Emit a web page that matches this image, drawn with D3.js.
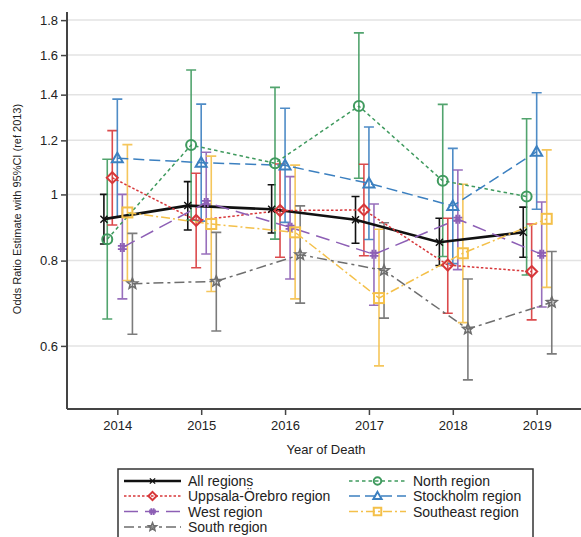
<!DOCTYPE html>
<html>
<head>
<meta charset="utf-8">
<script src="https://cdn.jsdelivr.net/npm/d3@7/dist/d3.min.js"></script>
<style>
  html, body { margin: 0; padding: 0; background: #fff; }
  svg { display: block; font-family: "Liberation Sans", Arial, sans-serif; }
</style>
</head>
<body>
<svg id="chart" width="581" height="537"></svg>
<script>
// Years of death (reference year 2013)
const years = [2014, 2015, 2016, 2017, 2018, 2019];
const yTicks = [0.6, 0.8, 1, 1.2, 1.4, 1.6, 1.8];

// Odds ratio estimates with 95% CI per region
const allEst = [0.920, 0.963, 0.951, 0.918, 0.851, 0.880];
const allLo  = [0.846, 0.887, 0.878, 0.848, 0.787, 0.809];
const allHi  = [1.000, 1.044, 1.033, 0.993, 0.923, 0.958];

const northEst = [0.860, 1.181, 1.111, 1.347, 1.047, 0.993];
const northLo  = [0.657, 0.917, 0.860, 1.056, 0.811, 0.762];
const northHi  = [1.126, 1.521, 1.435, 1.724, 1.355, 1.291];

const uppsalaEst = [1.058, 0.916, 0.947, 0.949, 0.788, 0.771];
const uppsalaLo  = [0.902, 0.781, 0.809, 0.813, 0.670, 0.655];
const uppsalaHi  = [1.240, 1.074, 1.108, 1.107, 0.923, 0.905];

const stockholmEst = [1.130, 1.113, 1.103, 1.038, 0.962, 1.155];
const stockholmLo  = [0.926, 0.914, 0.910, 0.859, 0.792, 0.951];
const stockholmHi  = [1.379, 1.356, 1.337, 1.255, 1.168, 1.409];

const westEst = [0.836, 0.973, 0.895, 0.817, 0.920, 0.817];
const westLo  = [0.703, 0.818, 0.752, 0.688, 0.776, 0.684];
const westHi  = [1.000, 1.153, 1.062, 0.968, 1.086, 0.975];

const southeastEst = [0.941, 0.905, 0.880, 0.705, 0.820, 0.921];
const southeastLo  = [0.748, 0.721, 0.703, 0.561, 0.649, 0.731];
const southeastHi  = [1.183, 1.138, 1.104, 0.889, 1.035, 1.162];

const southEst = [0.740, 0.746, 0.816, 0.774, 0.635, 0.695];
const southLo  = [0.624, 0.631, 0.693, 0.659, 0.535, 0.584];
const southHi  = [0.877, 0.880, 0.962, 0.909, 0.752, 0.825];

const series = [
  { name: "All regions", est: allEst, lo: allLo, hi: allHi, color: "#111111", width: 2.6, dash: null, marker: "x", dx: -0.16, cap: 4 },
  { name: "North region", est: northEst, lo: northLo, hi: northHi, color: "#3f9a5e", width: 1.5, dash: "3.5,3", marker: "circle", dx: -0.12, cap: 5 },
  { name: "Uppsala-Örebro region", est: uppsalaEst, lo: uppsalaLo, hi: uppsalaHi, color: "#d7373a", width: 1.5, dash: "2.5,2", marker: "diamond", dx: -0.06, cap: 5 },
  { name: "Stockholm region", est: stockholmEst, lo: stockholmLo, hi: stockholmHi, color: "#3c80c0", width: 1.5, dash: "11,5", marker: "triangle", dx: 0, cap: 5 },
  { name: "West region", est: westEst, lo: westLo, hi: westHi, color: "#8d5fb5", width: 1.5, dash: "14,7", marker: "hash", dx: 0.06, cap: 5 },
  { name: "Southeast region", est: southeastEst, lo: southeastLo, hi: southeastHi, color: "#f4c04a", width: 1.5, dash: "9,3,2,3", marker: "square", dx: 0.12, cap: 5 },
  { name: "South region", est: southEst, lo: southLo, hi: southHi, color: "#6e6e6e", width: 1.5, dash: "10,4,3,4", marker: "star", dx: 0.18, cap: 5 }
];

const svg = d3.select("#chart");
const W = 581;

const x = d3.scaleLinear().domain([2013.4, 2019.6]).range([67, 587]);
const y = d3.scaleLog().domain([0.485, 1.85]).range([409, 12]);

// Horizontal gridlines
svg.append("g").selectAll("line").data(yTicks).join("line")
  .attr("x1", 67).attr("x2", W)
  .attr("y1", d => y(d)).attr("y2", d => y(d))
  .attr("stroke", "#e3e3e3").attr("stroke-width", 1.5);

// Axes
const yAxis = d3.axisLeft(y).tickValues(yTicks).tickFormat(d3.format("~g")).tickSize(6).tickPadding(3);
const gy = svg.append("g").attr("transform", "translate(67,0)").call(yAxis);
gy.select(".domain").attr("d", `M0,${y.range()[1]}V${y.range()[0]}`);
const xAxis = d3.axisBottom(x).tickValues(years).tickFormat(d3.format("d")).tickSize(6).tickPadding(6);
const gx = svg.append("g").attr("transform", "translate(0,409)").call(xAxis);
gx.select(".domain").attr("d", `M67,0H${W}`);
[gx, gy].forEach(g => {
  g.select(".domain").attr("stroke", "#444").attr("stroke-width", 2);
  g.selectAll(".tick line").attr("stroke", "#444").attr("stroke-width", 1.5);
  g.selectAll(".tick text").attr("fill", "#222").attr("font-size", 13)
    .attr("font-family", "Liberation Sans, Arial, sans-serif");
});

// Axis titles
svg.append("text").attr("x", 326).attr("y", 454).attr("text-anchor", "middle")
  .attr("font-size", 13).attr("fill", "#222").text("Year of Death");
svg.append("text").attr("transform", "translate(21,209) rotate(-90)").attr("text-anchor", "middle")
  .attr("font-size", 11).attr("fill", "#222").text("Odds Ratio Estimate with 95%CI (ref 2013)");

// Marker shapes
function drawMarker(g, type, cx, cy, color, scale) {
  const s = scale || 1;
  const apply = (el) => el.attr("fill", "none").attr("stroke", color).attr("stroke-width", 2);
  if (type === "circle") {
    apply(g.append("circle").attr("cx", cx).attr("cy", cy).attr("r", 5 * s));
  } else if (type === "diamond") {
    const r = 5.5 * s;
    apply(g.append("path").attr("d", `M${cx},${cy - r}L${cx + r},${cy}L${cx},${cy + r}L${cx - r},${cy}Z`));
  } else if (type === "triangle") {
    const r = 5.5 * s;
    apply(g.append("path").attr("d", `M${cx},${cy - r}L${cx + r},${cy + r * 0.75}L${cx - r},${cy + r * 0.75}Z`));
  } else if (type === "square") {
    const r = 5 * s;
    apply(g.append("rect").attr("x", cx - r).attr("y", cy - r).attr("width", 2 * r).attr("height", 2 * r));
  } else if (type === "star") {
    const pts = d3.range(10).map(i => {
      const a = -Math.PI / 2 + i * Math.PI / 5;
      const rr = (i % 2 === 0 ? 5.5 : 2.4) * s;
      return [cx + rr * Math.cos(a), cy + rr * Math.sin(a)];
    });
    g.append("path").attr("d", "M" + pts.join("L") + "Z")
      .attr("fill", "none").attr("stroke", color).attr("stroke-width", 1.6);
  } else if (type === "hash") {
    const r = 4.5 * s, o = 1.6 * s;
    g.append("path").attr("d",
      `M${cx - o},${cy - r}V${cy + r}M${cx + o},${cy - r}V${cy + r}M${cx - r},${cy - o}H${cx + r}M${cx - r},${cy + o}H${cx + r}`)
      .attr("stroke", color).attr("stroke-width", 1.8).attr("fill", "none");
  } else if (type === "x") {
    const r = 3.5 * s;
    g.append("path").attr("d",
      `M${cx - r},${cy - r}L${cx + r},${cy + r}M${cx - r},${cy + r}L${cx + r},${cy - r}`)
      .attr("stroke", color).attr("stroke-width", 1.4).attr("fill", "none");
  }
}

const plot = svg.append("g");

// Confidence interval bars
series.forEach(s => {
  const g = plot.append("g");
  years.forEach((yr, i) => {
    const cx = x(yr + s.dx);
    g.append("path")
      .attr("d", `M${cx},${y(s.lo[i])}V${y(s.hi[i])}M${cx - s.cap},${y(s.lo[i])}H${cx + s.cap}M${cx - s.cap},${y(s.hi[i])}H${cx + s.cap}`)
      .attr("stroke", s.color).attr("stroke-width", 1.6).attr("fill", "none")
      .attr("stroke-opacity", s.name === "All regions" ? 1 : 0.9);
  });
});

// Connecting lines
const line = d3.line();
series.forEach(s => {
  const pts = years.map((yr, i) => [x(yr + s.dx), y(s.est[i])]);
  plot.append("path").attr("d", line(pts))
    .attr("fill", "none").attr("stroke", s.color).attr("stroke-width", s.width)
    .attr("stroke-dasharray", s.dash);
});

// Point markers
series.forEach(s => {
  const g = plot.append("g");
  years.forEach((yr, i) => drawMarker(g, s.marker, x(yr + s.dx), y(s.est[i]), s.color, 1));
});

// Legend
const lg = svg.append("g");
lg.append("rect").attr("x", 118).attr("y", 469).attr("width", 415).attr("height", 80)
  .attr("fill", "#fff").attr("stroke", "#333").attr("stroke-width", 1.5);
const legendPos = [
  [124, 481], [349, 481],
  [124, 496], [349, 496],
  [124, 511.5], [349, 511.5],
  [124, 527]
];
series.forEach((s, k) => {
  const [lx, ly] = legendPos[k];
  lg.append("line").attr("x1", lx).attr("x2", lx + 57).attr("y1", ly).attr("y2", ly)
    .attr("stroke", s.color).attr("stroke-width", s.width).attr("stroke-dasharray", s.dash);
  drawMarker(lg, s.marker, lx + 28.5, ly, s.color, 0.75);
  lg.append("text").attr("x", lx + 64).attr("y", ly + 5)
    .attr("font-size", 14).attr("fill", "#222").text(s.name);
});
</script>
</body>
</html>
